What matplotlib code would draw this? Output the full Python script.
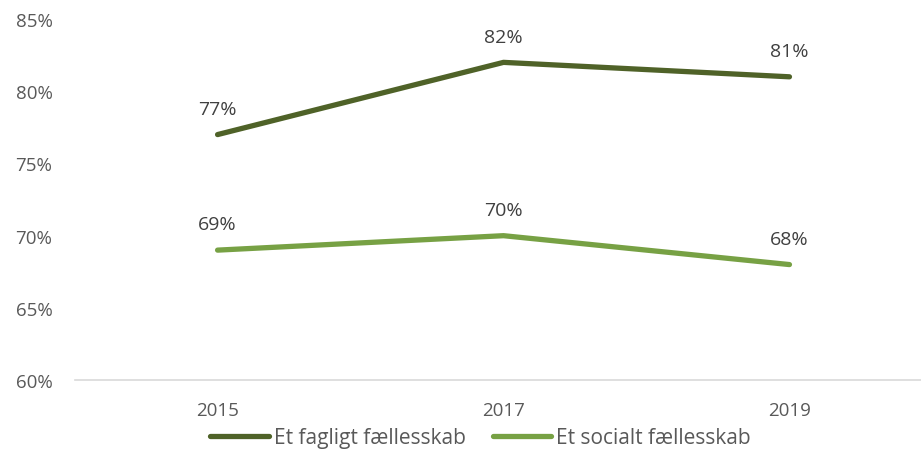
import numpy as np
import matplotlib as mpl
from matplotlib import pyplot as plt

# data
years = ['2015', '2017', '2019']
fagligt = [77, 82, 81]
socialt = [69, 70, 68]
labels = ['Et fagligt fællesskab', 'Et socialt fællesskab']

# colors
c_dark = '#4F6228'
c_light = '#77A144'
c_text = '#595959'

mpl.rcParams['font.family'] = ['Open Sans', 'DejaVu Sans']

fig = plt.figure(figsize=(9.21, 4.77), dpi=100)
ax = fig.add_axes([0.081, 0.201, 0.919, 0.757])

x = np.arange(len(years))
ax.plot(x, fagligt, color=c_dark, lw=3.8, solid_capstyle='round', label=labels[0])
ax.plot(x, socialt, color=c_light, lw=3.8, solid_capstyle='round', label=labels[1])

# data labels
for xi, v in zip(x, fagligt):
    ax.annotate(f'{v}%', (xi, v), xytext=(0, 12), textcoords='offset points',
                ha='center', va='bottom', color='#404040', fontsize=14)
for xi, v in zip(x, socialt):
    ax.annotate(f'{v}%', (xi, v), xytext=(0, 12), textcoords='offset points',
                ha='center', va='bottom', color='#404040', fontsize=14)

ax.set_xlim(-0.5, 2.46)
ax.set_ylim(60, 85)
ax.set_yticks(range(60, 86, 5))
ax.set_yticklabels([f'{t}%' for t in range(60, 86, 5)])
ax.set_xticks(x)
ax.set_xticklabels(years)

for s in ['top', 'right', 'left']:
    ax.spines[s].set_visible(False)
ax.spines['bottom'].set_color('#D9D9D9')
ax.spines['bottom'].set_linewidth(1.2)
ax.tick_params(axis='both', length=0, colors=c_text, labelsize=13.5)
ax.tick_params(axis='x', pad=15)
ax.tick_params(axis='y', pad=16)

leg = fig.legend(loc='center', bbox_to_anchor=(0.522, 0.08), ncol=2, frameon=False,
                 fontsize=15, handlelength=2.8, columnspacing=1.3, handletextpad=0.25)
for t in leg.get_texts():
    t.set_color(c_text)

plt.savefig('out.png', dpi=100)
plt.close()
